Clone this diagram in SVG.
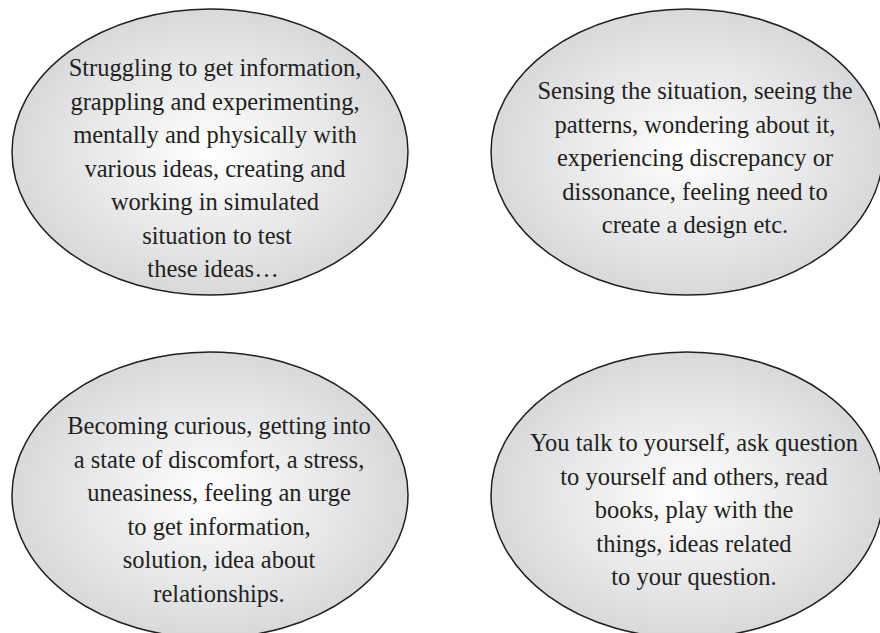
<svg xmlns="http://www.w3.org/2000/svg" width="880" height="633" viewBox="0 0 880 633">
<defs>
<radialGradient id="g" cx="0.5" cy="0.5" r="0.5">
<stop offset="0" stop-color="#ffffff"/>
<stop offset="1" stop-color="#d8d9db"/>
</radialGradient>
<style>
.e{fill:url(#g);stroke:#231f20;stroke-width:1.5}
.t{font-family:'Liberation Serif','Times New Roman',serif;font-size:24.5px;fill:#231f20;text-anchor:middle}
</style>
</defs>
<rect width="880" height="633" fill="#ffffff"/>
<g class="t">
<g id="node-struggling">
<ellipse class="e" cx="210" cy="152" rx="198" ry="143"/>
<text x="215" y="76">Struggling to get information,</text>
<text x="215" y="109.5">grappling and experimenting,</text>
<text x="215" y="143">mentally and physically with</text>
<text x="215" y="176.5">various ideas, creating and</text>
<text x="215" y="210">working in simulated</text>
<text x="217" y="243.5">situation to test</text>
<text x="213" y="277">these ideas…</text>
</g>
<g id="node-sensing">
<ellipse class="e" cx="687" cy="152" rx="196" ry="143"/>
<text x="695" y="99">Sensing the situation, seeing the</text>
<text x="695" y="132.5">patterns, wondering about it,</text>
<text x="695" y="166">experiencing discrepancy or</text>
<text x="695" y="199.5">dissonance, feeling need to</text>
<text x="695" y="233">create a design etc.</text>
</g>
<g id="node-curious">
<ellipse class="e" cx="210" cy="495" rx="198" ry="143"/>
<text x="219" y="434">Becoming curious, getting into</text>
<text x="219" y="467.5">a state of discomfort, a stress,</text>
<text x="219" y="501">uneasiness, feeling an urge</text>
<text x="219" y="534.5">to get information,</text>
<text x="219" y="568">solution, idea about</text>
<text x="219" y="601.5">relationships.</text>
</g>
<g id="node-talk">
<ellipse class="e" cx="687" cy="495" rx="196" ry="143"/>
<text x="694" y="451">You talk to yourself, ask question</text>
<text x="694" y="484.5">to yourself and others, read</text>
<text x="694" y="518">books, play with the</text>
<text x="694" y="551.5">things, ideas related</text>
<text x="694" y="585">to your question.</text>
</g>
</g>
<g id="connectors"/>
</svg>
